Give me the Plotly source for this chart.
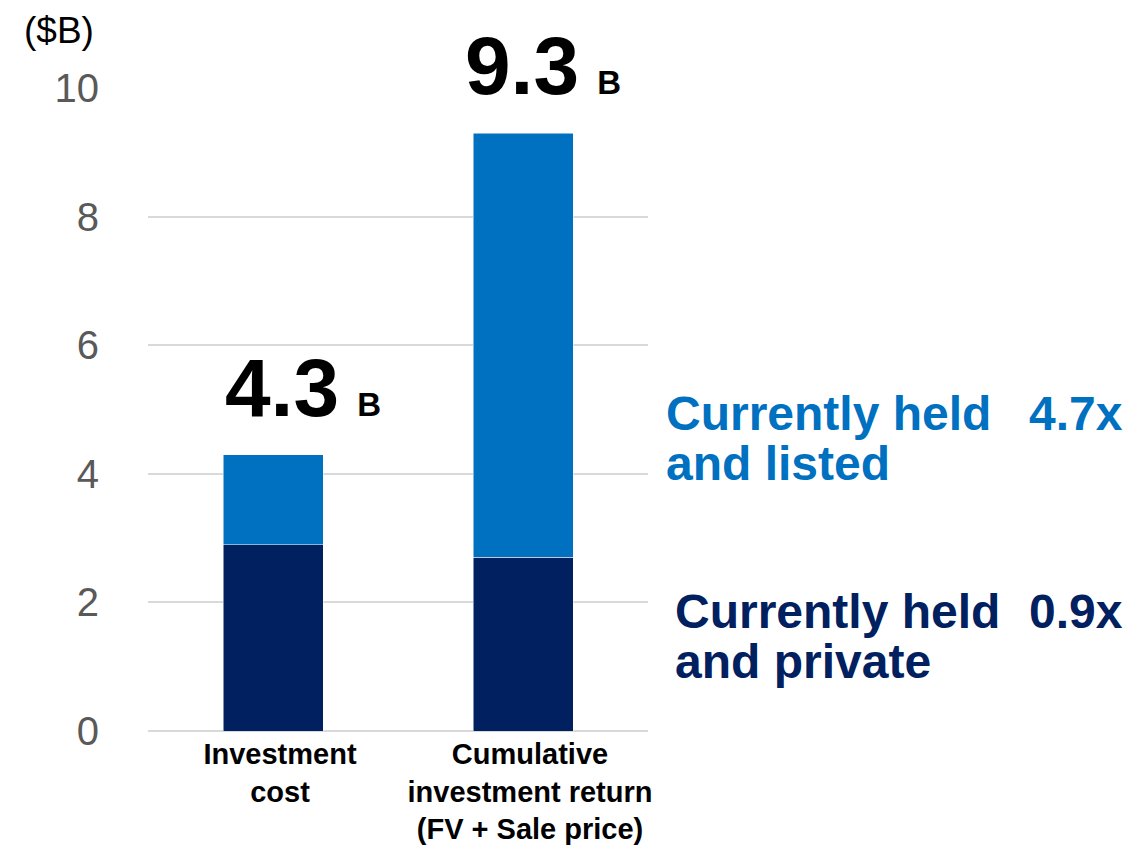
import plotly.graph_objects as go

categories = ["<b>Investment<br>cost</b>", "<b>Cumulative<br>investment return<br>(FV + Sale price)</b>"]
private_vals = [2.9, 2.7]
listed_vals = [1.4, 6.6]
totals_text = ["4.3", "9.3"]
series_names = ["Currently held<br>and private", "Currently held<br>and listed"]
multiples = ["0.9x", "4.7x"]
y_ticks = [0, 2, 4, 6, 8, 10]

DARK = "#002060"
LIGHT = "#0070C0"
FONT = "Liberation Sans, Arial, sans-serif"

W, H = 1147, 848
OFF = 8  # page body margin
L, T = 148 - OFF, 88 - OFF
R = W - (648 - OFF)
B = H - (731 - OFF)
PW, PH = W - L - R, H - T - B

def px(x):
    return (x - OFF - L) / PW

def py(y):
    return (H - B - (y - OFF)) / PH

fig = go.Figure()
fig.add_trace(go.Bar(x=[0, 1], y=private_vals, marker=dict(color=DARK, line=dict(color="white", width=0.5)),
                     name="private", showlegend=False))
fig.add_trace(go.Bar(x=[0, 1], y=listed_vals, marker=dict(color=LIGHT, line=dict(color="white", width=0.5)),
                     name="listed", showlegend=False))

annotations = []
total_xshifts = [-50, -60]
for i, t in enumerate(totals_text):
    total = private_vals[i] + listed_vals[i]
    annotations.append(dict(
        x=i, y=total, xref="x", yref="y", xanchor="left", yanchor="bottom",
        text=f"<b>{t}<span style='font-size:33px'>  B</span></b>",
        showarrow=False, xshift=total_xshifts[i], yshift=20,
        font=dict(family=FONT, size=82, color="black")))

# right-side labels
label_specs = [
    (series_names[1], multiples[1], LIGHT, 664, 413, 463),
    (series_names[0], multiples[0], DARK, 673, 611, 661),
]
for name, mult, col, x0, y1, y2 in label_specs:
    l1, l2 = name.split("<br>")
    for txt, yy in ((l1, y1), (l2, y2)):
        annotations.append(dict(x=px(x0), y=py(yy), xref="paper", yref="paper", xanchor="left",
                                yanchor="middle", text=f"<b>{txt}</b>", showarrow=False,
                                font=dict(family=FONT, size=48, color=col)))
    annotations.append(dict(x=px(1125), y=py(y1), xref="paper", yref="paper", xanchor="right",
                            yanchor="middle", text=f"<b>{mult}</b>", showarrow=False,
                            font=dict(family=FONT, size=48, color=col)))

annotations.append(dict(x=px(59), y=py(8), xref="paper", yref="paper", xanchor="center",
                        yanchor="top", text="($B)", showarrow=False,
                        font=dict(family=FONT, size=37, color="black")))

fig.update_layout(
    width=W, height=H,
    margin=dict(l=L, r=R, t=T, b=B, pad=0, autoexpand=False),
    barmode="stack", bargap=0.6,
    plot_bgcolor="white", paper_bgcolor="white",
    annotations=annotations,
    font=dict(family=FONT),
)
fig.update_xaxes(
    tickvals=[0, 1], ticktext=categories, range=[-0.5, 1.5],
    tickfont=dict(family=FONT, size=29, color="black"),
    showgrid=False, zeroline=False, showline=False, ticks="",
    ticklabelstandoff=3, ticklabelshift=7, automargin=False,
)
fig.update_yaxes(
    range=[0, 10], tickvals=y_ticks, showgrid=True, gridcolor="#D9D9D9", gridwidth=2,
    zeroline=True, zerolinecolor="#D9D9D9", zerolinewidth=2,
    tickfont=dict(family=FONT, size=40, color="#595959"),
    ticks="", ticklabelstandoff=48, showline=False, automargin=False,
)
for tr in fig.data:
    tr.cliponaxis = False

fig.write_html("out.html")
